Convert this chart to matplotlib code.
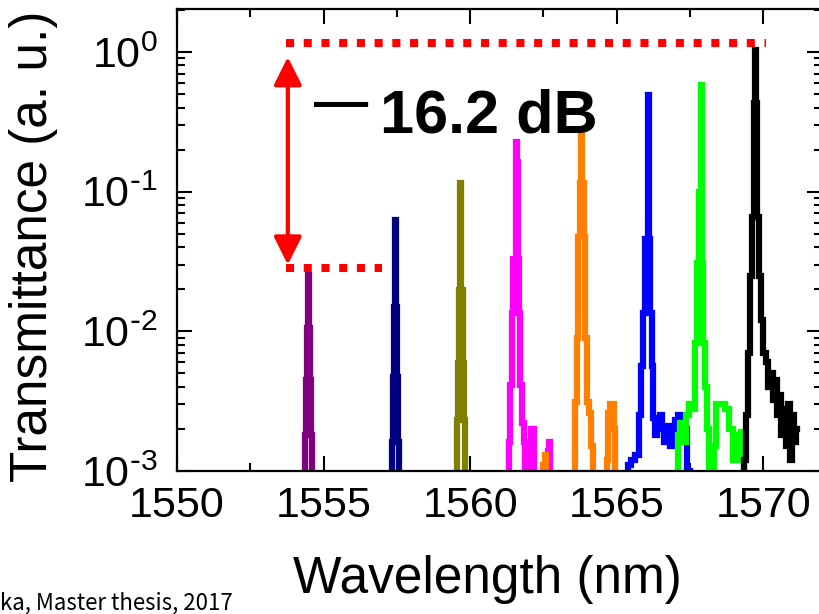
import matplotlib
matplotlib.use("Agg")
import matplotlib.pyplot as plt
from matplotlib.ticker import MultipleLocator, LogLocator, NullFormatter, FuncFormatter
import math

plt.rcParams['font.family'] = ['Liberation Sans', 'DejaVu Sans']
plt.rcParams['mathtext.default'] = 'regular'
plt.rcParams['axes.unicode_minus'] = False

# ---------------- data ----------------
purple_wl = [1554.33, 1554.37, 1554.41, 1554.45, 1554.48, 1554.51, 1554.55, 1554.59, 1554.63]
purple_t = [1e-4, 0.0018, 0.0045, 0.0106, 0.0253, 0.0106, 0.0045, 0.0018, 1e-4]

navy_wl = [1557.32, 1557.36, 1557.40, 1557.43, 1557.46, 1557.49, 1557.52, 1557.56, 1557.60]
navy_t = [1e-4, 0.0016, 0.0047, 0.015, 0.063, 0.015, 0.0047, 0.0016, 1e-4]

olive_wl = [1559.52, 1559.56, 1559.60, 1559.64, 1559.68, 1559.72, 1559.76, 1559.80, 1559.84]
olive_t = [1e-4, 0.0023, 0.0059, 0.0197, 0.115, 0.0197, 0.0059, 0.0023, 1e-4]

magenta_wl = [1561.30, 1561.35, 1561.40, 1561.45, 1561.50, 1561.55, 1561.58, 1561.61,
              1561.64, 1561.68, 1561.73, 1561.79, 1561.85, 1561.90,
              1562.05, 1562.10, 1562.16, 1562.21,
              1562.62, 1562.66, 1562.71, 1562.76]
magenta_t = [1e-4, 0.0016, 0.0041, 0.0136, 0.033, 0.033, 0.227, 0.163,
             0.033, 0.0136, 0.0041, 0.0022, 0.0016, 1e-4,
             1e-4, 0.0020, 0.0020, 1e-4,
             1e-4, 0.0014, 0.0016, 1e-4]

orange_wl = [1562.48, 1562.52, 1562.57, 1562.61,
             1563.55, 1563.60, 1563.66, 1563.72, 1563.77, 1563.81, 1563.85, 1563.89,
             1563.94, 1564.00, 1564.08, 1564.16, 1564.24,
             1564.62, 1564.68, 1564.74, 1564.80, 1564.86, 1564.92, 1564.98]
orange_t = [1e-4, 0.0011, 0.0013, 1e-4,
            1e-4, 0.0031, 0.009, 0.047, 0.115, 0.263, 0.115, 0.047,
            0.009, 0.0031, 0.0026, 0.0015, 1e-4,
            1e-4, 0.0012, 0.0026, 0.0030, 0.0030, 0.0020, 1e-4]

blue_wl = [1565.35, 1565.40, 1565.55, 1565.70, 1565.80, 1565.86, 1565.92, 1565.98,
           1566.03, 1566.07, 1566.11, 1566.16, 1566.21, 1566.27, 1566.34, 1566.42,
           1566.50, 1566.58, 1566.66, 1566.75, 1566.85, 1566.95, 1567.05, 1567.15,
           1567.25, 1567.35, 1567.45, 1567.52]
blue_t = [1e-4, 0.0011, 0.0012, 0.0013, 0.0025, 0.0056, 0.0135, 0.046,
          0.046, 0.49, 0.046, 0.0135, 0.0056, 0.0024, 0.0018, 0.0022,
          0.0025, 0.0020, 0.0016, 0.0021, 0.0015, 0.0019, 0.0023, 0.0025,
          0.0018, 0.0020, 0.0010, 1e-4]

green_wl = [1567.05, 1567.12, 1567.22, 1567.32, 1567.42, 1567.52, 1567.62, 1567.72,
            1567.78, 1567.84, 1567.88, 1567.92, 1567.97, 1568.03, 1568.10, 1568.18,
            1568.28, 1568.35, 1568.45, 1568.60, 1568.75, 1568.90, 1569.05, 1569.20,
            1569.30, 1569.36]
green_t = [1e-4, 0.0018, 0.0022, 0.0016, 0.0025, 0.0030, 0.0028, 0.0083,
           0.031, 0.10, 0.58, 0.031, 0.0083, 0.0040, 0.0020, 0.0009,
           1e-4, 0.0015, 0.0030, 0.0030, 0.0028, 0.0020, 0.0012, 0.0018,
           0.0019, 1e-4]

black_wl = [1569.30, 1569.38, 1569.45, 1569.52, 1569.58, 1569.64, 1569.70, 1569.74,
            1569.77, 1569.81, 1569.88, 1569.95, 1570.03, 1570.12, 1570.20, 1570.28,
            1570.35, 1570.42, 1570.50, 1570.58, 1570.65, 1570.72, 1570.80, 1570.88,
            1570.95, 1571.02, 1571.10, 1571.16]
black_t = [1e-4, 0.0012, 0.0025, 0.0070, 0.025, 0.066, 0.43, 1.03,
           0.43, 0.066, 0.025, 0.012, 0.007, 0.0060, 0.0040, 0.0050,
           0.0032, 0.0045, 0.0025, 0.0035, 0.0018, 0.0028, 0.0015, 0.0030,
           0.0012, 0.0025, 0.0016, 0.0020]

spectra = [
    (purple_wl, purple_t, '#800080'),
    (navy_wl, navy_t, '#000080'),
    (olive_wl, olive_t, '#808000'),
    (magenta_wl, magenta_t, '#FF00FF'),
    (orange_wl, orange_t, '#FF8000'),
    (blue_wl, blue_t, '#0000FF'),
    (green_wl, green_t, '#00FF00'),
    (black_wl, black_t, '#000000'),
]

top_level = 1.16
bottom_level = 0.0284
top_line_x = [1553.73, 1570.1]
bottom_line_x = [1553.73, 1557.0]
arrow_x = 1553.78
db_dash = '\u2014'
db_label = '16.2 dB'
footnote = 'ka, Master thesis, 2017'

# ---------------- figure ----------------
W, H = 820, 614
fig = plt.figure(figsize=(W / 100, H / 100), dpi=100)
ax = fig.add_axes([177 / W, 1 - 471 / H, (822 - 177) / W, (471 - 9) / H])

for wl, t, c in spectra:
    ax.plot(wl, t, color=c, lw=4.5, drawstyle='steps-mid', solid_joinstyle='miter')

ax.set_yscale('log')
ax.set_xlim(1550, 1572)
ax.set_ylim(1e-3, 2.03)


def log_fmt(v, pos):
    e = int(round(math.log10(v)))
    if e < 0:
        return r'$\mathregular{10^{\text{-}%d}}$' % (-e)
    return r'$\mathregular{10^{%d}}$' % e


ax.xaxis.set_major_locator(MultipleLocator(5))
ax.xaxis.set_minor_locator(MultipleLocator(2.5))
ax.yaxis.set_major_locator(LogLocator(base=10, numticks=10))
ax.yaxis.set_major_formatter(FuncFormatter(log_fmt))
ax.yaxis.set_minor_locator(LogLocator(base=10, subs=range(2, 10), numticks=20))
ax.yaxis.set_minor_formatter(NullFormatter())

ax.tick_params(which='both', direction='in', top=True, right=True, width=1.5, colors='black')
ax.tick_params(which='major', length=11)
ax.tick_params(which='minor', length=5.5)
ax.tick_params(axis='x', which='major', labelsize=31, pad=11)
ax.tick_params(axis='y', which='major', labelsize=31, pad=14)
for s in ax.spines.values():
    s.set_linewidth(1.6)

# red dotted lines
ax.plot(top_line_x, [top_level, top_level], color='red', lw=5.8,
        linestyle=(0, (1.0, 1.2)), solid_capstyle='butt')
ax.plot(bottom_line_x, [bottom_level, bottom_level], color='red', lw=5.8,
        linestyle=(0, (1.0, 1.2)), solid_capstyle='butt')

# double arrow
ax.annotate('', xy=(arrow_x, 0.92), xytext=(arrow_x, 0.030),
            arrowprops=dict(arrowstyle='<|-|>,head_length=17,head_width=8.5',
                            mutation_scale=1, color='red', lw=3,
                            shrinkA=0, shrinkB=0))

ax.text(1554.68, 0.33, db_dash, fontsize=39, fontweight='bold',
        ha='left', va='baseline', color='black')
ax.text(1556.91, 0.267, db_label, fontsize=44, fontweight='bold',
        ha='left', va='baseline', color='black')

fig.text(487 / W, 1 - 593 / H, 'Wavelength (nm)', fontsize=37,
         ha='center', va='baseline')
fig.text(34 / W, 1 - 246 / H, 'Transmittance (a. u.)', fontsize=37,
         rotation=90, ha='center', va='center')
fig.text(0.5 / W, 1 - 610 / H, footnote, fontsize=16,
         ha='left', va='baseline', family=['Noto Sans CJK JP', 'DejaVu Sans'])

fig.savefig('out.png', dpi=100)
